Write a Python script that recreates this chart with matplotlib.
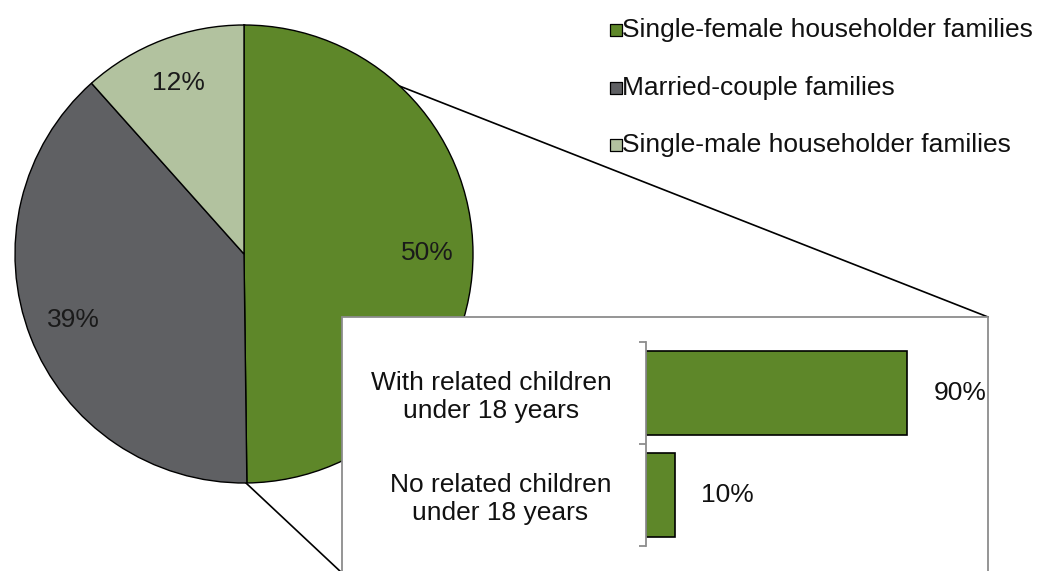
import matplotlib.pyplot as plt
from matplotlib.patches import Rectangle

plt.rcParams['font.family'] = ['Liberation Sans', 'DejaVu Sans']

family_types = ["Single-female householder families", "Married-couple families",
                "Single-male householder families"]
family_shares = [49.8, 38.6, 11.6]
family_colors = ["#5E8729", "#5F6063", "#B2C29F"]

child_groups = ["With related children\nunder 18 years", "No related children\nunder 18 years"]
child_shares = [90, 10]

W, H = 1042, 571
FS = 19
fig = plt.figure(figsize=(W / 100, H / 100), dpi=100)

# full-figure axes in pixel units (y measured from bottom)
ax = fig.add_axes([0, 0, 1, 1])
ax.set_xlim(0, W)
ax.set_ylim(0, H)
ax.set_aspect("equal")
ax.axis("off")

cx, cy, r = 244, H - 254, 229
wedges, _, pct_texts = ax.pie(
    family_shares, colors=family_colors, startangle=90, counterclock=False,
    center=(cx, cy), radius=r, autopct="%.0f%%", pctdistance=0.8,
    wedgeprops=dict(edgecolor="black", linewidth=1.0, zorder=2),
    textprops=dict(fontsize=FS, color="#1A1A1A"),
)
for t in pct_texts:
    t.set_zorder(3)
ax.set_xlim(0, W)
ax.set_ylim(0, H)

# connector lines from the female slice to the detail box
box_l, box_r, box_t = 342, 988, H - 317
ax.plot([cx, box_r], [cy + r, box_t], color="black", lw=1.2, zorder=1)
ax.plot([cx + 2, box_l], [cy - r, -2], color="black", lw=1.2, zorder=1)
ax.add_patch(Rectangle((box_l, -10), box_r - box_l, box_t + 10, facecolor="white",
                       edgecolor="#8C8C8C", lw=1.3, zorder=4))

# legend
for i, (name, color) in enumerate(zip(family_types, family_colors)):
    y = H - (30 + 57.5 * i)
    ax.scatter([615.5], [y], marker="s", s=72, color=color, edgecolor="black",
               linewidth=0.9, zorder=5)
    ax.text(622, y, name, fontsize=FS, va="center", ha="left", color="#111111")

# bar inset
bx = fig.add_axes([646 / W, 25 / H, 290 / W, 204 / H])
bx.set_zorder(6)
bx.patch.set_alpha(0)
pos = list(range(len(child_groups)))
bx.barh(pos, child_shares, height=0.83, color=family_colors[0], edgecolor="black", lw=1.2)
bx.set_xlim(0, 100)
bx.set_ylim(len(child_groups) - 0.5, -0.5)
for p, v in zip(pos, child_shares):
    bx.annotate(f"{v}%", (v, p), xytext=(19, 0), textcoords="offset points",
                va="center", ha="left", fontsize=FS, color="#111111")
for s in ["top", "right", "bottom"]:
    bx.spines[s].set_visible(False)
bx.spines["left"].set_color("#8C8C8C")
bx.spines["left"].set_linewidth(1.3)
bx.set_xticks([])
bx.set_yticks([p - 0.5 for p in pos] + [pos[-1] + 0.5])
bx.set_yticklabels([])
bx.tick_params(axis="y", which="major", length=5, color="#8C8C8C", width=1.3)
bx.set_yticks(pos, minor=True)
bx.set_yticklabels(child_groups, minor=True, fontsize=FS, color="#111111")
bx.tick_params(axis="y", which="minor", length=0, pad=25)
for t in bx.get_yticklabels(minor=True):
    t.set_multialignment("center")

fig.savefig("out.png", dpi=100)
